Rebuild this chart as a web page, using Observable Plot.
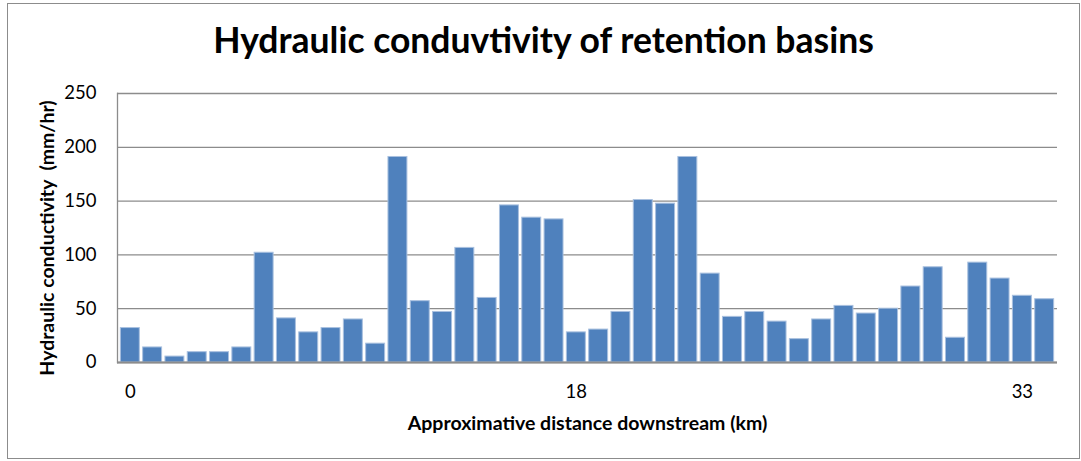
<!DOCTYPE html>
<html>
<head>
<meta charset="utf-8">
<script src="https://cdn.jsdelivr.net/npm/d3@7"></script>
<script src="https://cdn.jsdelivr.net/npm/@observablehq/plot@0.6"></script>
<style>
  html, body { margin: 0; padding: 0; background: #fff; }
  #wrap { position: relative; width: 1081px; height: 461px; overflow: hidden; }
  #box { position: absolute; left: 7px; top: 3px; width: 1073px; height: 456px; border: 1px solid #8c8c8c; box-sizing: border-box; }
  #title { position: absolute; left: 7px; width: 1073px; top: 18.5px; text-align: center;
           font-family: Lato, "Open Sans", sans-serif; font-weight: bold; font-size: 35.5px; color: #000; line-height: 1.2; }
  #chart { position: absolute; left: 0; top: 0; }
</style>
</head>
<body>
<div id="wrap">
  <div id="box"></div>
  <div id="title">Hydraulic conduvtivity of retention basins</div>
  <div id="chart"></div>
</div>
<script>
// Hydraulic conductivity (mm/hr) of each retention basin, in downstream order
const conductivity = [32, 14, 5.5, 9.6, 9.6, 14, 102, 41, 28, 32, 40, 17.5, 191, 57, 47, 106.5, 60, 146, 134.6, 133, 28, 30.6, 47, 151, 147.6, 191, 82.6, 42.4, 47, 38, 21.7, 40, 52.6, 45.5, 50, 70.6, 88.5, 23, 92.8, 78, 62, 58.8];
// Distance labels shown on the x axis (basin index -> label)
const xTickIndex = [0, 20, 40];
const xTickText = ["0", "18", "33"];
const yTicks = [0, 50, 100, 150, 200, 250];
const xLabel = "Approximative distance downstream (km)";
const yLabel = "Hydraulic conductivity  (mm/hr)";

const basins = conductivity.map((v, i) => ({i, v}));
const tickMap = new Map(xTickIndex.map((k, j) => [k, xTickText[j]]));

const chart = Plot.plot({
  width: 1081,
  height: 461,
  marginLeft: 117,
  marginRight: 24,
  marginTop: 93,
  marginBottom: 99,
  style: {fontFamily: "Lato, 'Open Sans', sans-serif", fontSize: "18px", color: "#000", background: "transparent", overflow: "visible"},
  x: {type: "band", domain: basins.map(d => d.i), padding: 0.15, round: false, label: null},
  y: {domain: [0, 250], label: null},
  marks: [
    Plot.gridY(yTicks, {stroke: "#8c8c8c", strokeOpacity: 1, strokeWidth: 1.3}),
    Plot.barY(basins, {x: "i", y: "v", fill: "#4F81BD", stroke: "#a9c0df", strokeWidth: 1}),
    Plot.frame({anchor: "left", stroke: "#8c8c8c", strokeWidth: 1.3}),
    Plot.ruleY([0], {stroke: "#8c8c8c", strokeWidth: 2}),
    Plot.axisY(yTicks, {tickSize: 0, tickPadding: 21, fontSize: 18.5, label: null}),
    Plot.axisX(xTickIndex, {tickSize: 0, tickPadding: 22, fontSize: 18.5, label: null, tickFormat: i => tickMap.get(i)}),
    Plot.text([yLabel], {frameAnchor: "left", textAnchor: "middle", lineAnchor: "middle", rotate: -90, dx: -70, dy: 10, fontWeight: "bold", fontSize: 19.5}),
    Plot.text([xLabel], {frameAnchor: "bottom", textAnchor: "middle", lineAnchor: "middle", dy: 61, fontWeight: "bold", fontSize: 19.5})
  ]
});
document.getElementById("chart").appendChild(chart);
</script>
</body>
</html>
